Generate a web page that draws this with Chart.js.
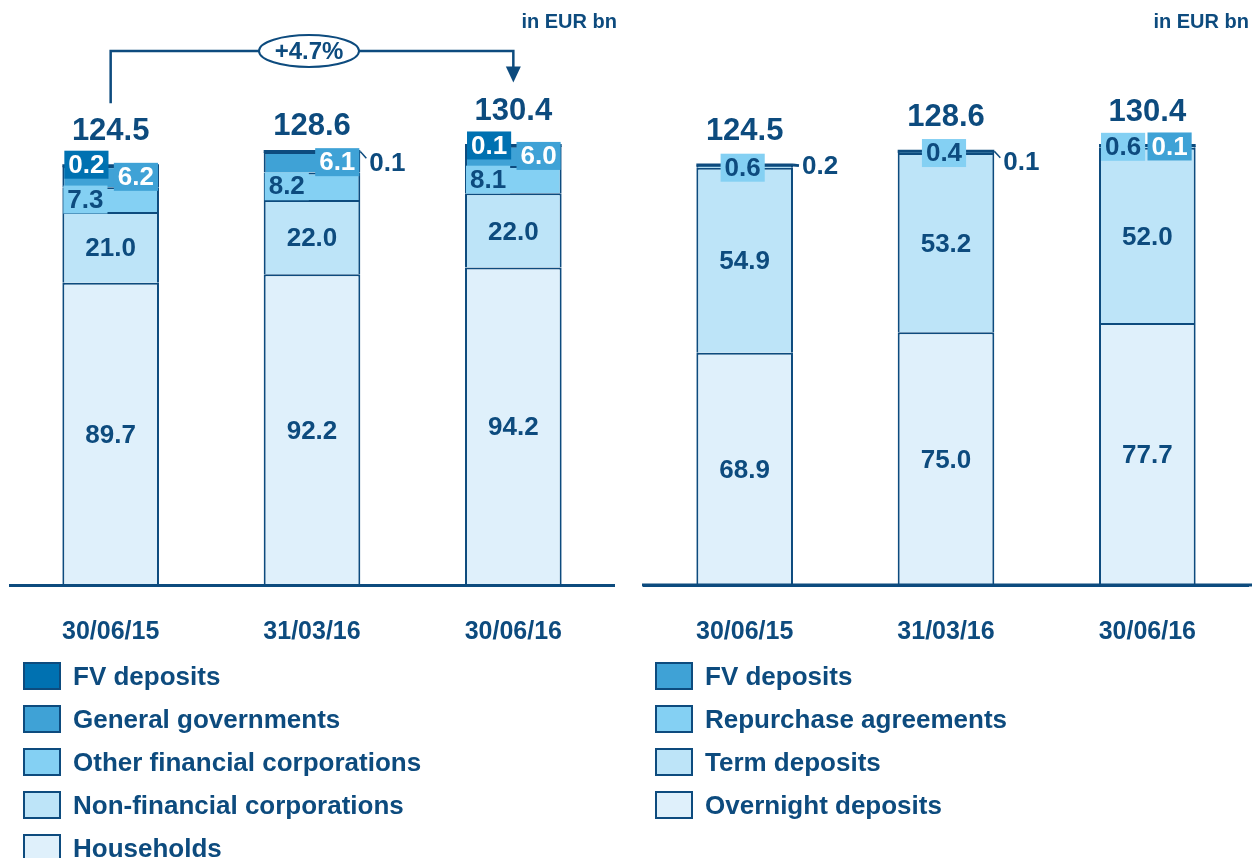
<!DOCTYPE html>
<html>
<head>
<meta charset="utf-8">
<script src="https://cdn.jsdelivr.net/npm/chart.js@4.4.0/dist/chart.umd.min.js"></script>
<style>
  html, body { margin: 0; padding: 0; background: #ffffff; }
  body { width: 1252px; height: 858px; position: relative; overflow: hidden;
         font-family: "Liberation Sans", Arial, sans-serif; }
  canvas { position: absolute; top: 0; }
  #sectorChart { left: 0; }
  #productChart { left: 626px; }
  .legend { position: absolute; top: 662px; }
  #sectorLegend { left: 23px; }
  #productLegend { left: 655px; }
  .legend .item { display: flex; align-items: center; height: 28px; margin-bottom: 15px;
                  font-weight: bold; font-size: 26px; color: #0d4b7e; white-space: nowrap; }
  .legend .sw { width: 38px; height: 28px; box-sizing: border-box; border: 2px solid #0d4b7e;
                margin-right: 12px; flex: none; }
</style>
</head>
<body>
<canvas id="sectorChart" width="626" height="680"></canvas>
<canvas id="productChart" width="626" height="680"></canvas>
<div class="legend" id="sectorLegend"></div>
<div class="legend" id="productLegend"></div>

<script>
// Reporting dates
const dates = ['30/06/15', '31/03/16', '30/06/16'];

// Deposits by sector (EUR bn)
const households = [89.7, 92.2, 94.2];
const nonFinancialCorps = [21.0, 22.0, 22.0];
const otherFinancialCorps = [7.3, 8.2, 8.1];
const generalGovernments = [6.2, 6.1, 6.0];
const fvDepositsSector = [0.2, 0.1, 0.1];
const sectorTotals = [124.5, 128.6, 130.4];

// Deposits by product (EUR bn)
const overnightDeposits = [68.9, 75.0, 77.7];
const termDeposits = [54.9, 53.2, 52.0];
const repurchaseAgreements = [0.6, 0.4, 0.6];
const fvDepositsProduct = [0.2, 0.1, 0.1];
const productTotals = [124.5, 128.6, 130.4];

const growthLabel = '+4.7%';
const unitLabel = 'in EUR bn';

// Palette
const INK = '#0d4b7e';
const BLUE_DARK = '#0071b1';
const BLUE_MID = '#3fa2d6';
const BLUE_LIGHT = '#84d0f3';
const BLUE_PALE = '#bde4f8';
const BLUE_MIST = '#dff0fb';
const FONT = '"Liberation Sans", Arial, sans-serif';

function bar(label, data, color, labelStyle) {
  return { label, data, backgroundColor: color, borderColor: INK, borderWidth: 2,
           labelStyle, categoryPercentage: 1, barPercentage: 0.48 };
}

// Draws the value of each stacked segment, either inside the segment or in a small tag
const segmentLabels = {
  id: 'segmentLabels',
  afterDatasetsDraw(chart) {
    const ctx = chart.ctx;
    ctx.save();

    // heavier outline along the top of every stack
    const lastMeta = chart.getDatasetMeta(chart.data.datasets.length - 1);
    ctx.strokeStyle = INK;
    ctx.lineWidth = 3;
    lastMeta.data.forEach(el => {
      const p = el.getProps(['x', 'y', 'width'], true);
      ctx.beginPath();
      ctx.moveTo(p.x - p.width / 2, p.y);
      ctx.lineTo(p.x + p.width / 2, p.y);
      ctx.stroke();
    });

    ctx.font = 'bold 26px ' + FONT;
    ctx.textBaseline = 'middle';
    const tag = (text, x, cy, anchor, bg, fg) => {
      const w = ctx.measureText(text).width + 8, h = 28;
      const x0 = anchor === 'left' ? x : anchor === 'right' ? x - w : x - w / 2;
      ctx.fillStyle = bg;
      ctx.fillRect(x0, cy - h / 2, w, h);
      ctx.fillStyle = fg;
      ctx.textAlign = 'center';
      ctx.fillText(text, x0 + w / 2, cy + 1);
    };
    chart.data.datasets.forEach((ds, di) => {
      const meta = chart.getDatasetMeta(di);
      meta.data.forEach((el, i) => {
        const p = el.getProps(['x', 'y', 'base', 'width'], true);
        const left = p.x - p.width / 2, right = p.x + p.width / 2;
        const top = Math.min(p.y, p.base), bottom = Math.max(p.y, p.base);
        const mid = (top + bottom) / 2;
        const st = Array.isArray(ds.labelStyle) ? ds.labelStyle[i] : ds.labelStyle;
        const text = ds.data[i].toFixed(1);
        const fg = st.fg || INK;
        switch (st.kind) {
          case 'center':
            ctx.fillStyle = INK; ctx.textAlign = 'center';
            ctx.fillText(text, p.x, mid + 2);
            break;
          case 'inLeft':
            tag(text, left + 1, mid, 'left', ds.backgroundColor, fg);
            break;
          case 'inRight':
            tag(text, right - 1, mid, 'right', ds.backgroundColor, fg);
            break;
          case 'topLeft':
            tag(text, left + 2, top + (st.dy || 0), 'left', ds.backgroundColor, fg);
            break;
          case 'topRight':
            tag(text, right - 4, top + (st.dy || 0), 'right', ds.backgroundColor, fg);
            break;
          case 'topCenter':
            tag(text, p.x - 2, top + (st.dy || 0), 'center', ds.backgroundColor, fg);
            break;
          case 'outside': {
            const ly = top + st.dy;
            ctx.strokeStyle = INK; ctx.lineWidth = st.dy < 4 ? 3 : 1.5;
            ctx.beginPath();
            ctx.moveTo(right, top);
            ctx.lineTo(right + 6, top + st.dy * 0.6);
            ctx.stroke();
            ctx.fillStyle = INK; ctx.textAlign = 'left';
            ctx.fillText(text, right + 9, ly + 1);
            break;
          }
        }
      });
    });
    ctx.restore();
  }
};

// Totals above the bars, unit caption, growth bracket and axis extension
const chartFrame = {
  id: 'chartFrame',
  afterDraw(chart, args, opts) {
    const ctx = chart.ctx;
    const area = chart.chartArea;
    const xs = chart.scales.x, ys = chart.scales.y;
    ctx.save();
    ctx.fillStyle = INK;
    ctx.textBaseline = 'middle';
    ctx.textAlign = 'center';
    ctx.font = 'bold 31px ' + FONT;
    const totalY = opts.totals.map((t, i) => ys.getPixelForValue(t) - opts.lift[i]);
    opts.totals.forEach((t, i) => {
      ctx.fillText(t.toFixed(1), xs.getPixelForValue(i), totalY[i]);
    });

    ctx.font = 'bold 20px ' + FONT;
    ctx.textAlign = 'right';
    ctx.fillText(unitLabel, area.right + opts.unitShift, 22);

    if (opts.extendAxis) {
      ctx.strokeStyle = INK; ctx.lineWidth = 3;
      ctx.beginPath();
      ctx.moveTo(area.left - 2, area.bottom);
      ctx.lineTo(chart.width, area.bottom);
      ctx.stroke();
    }

    if (opts.growth) {
      const x0 = xs.getPixelForValue(0), x2 = xs.getPixelForValue(2);
      const lineY = 51;
      const tipY = totalY[2] - 29;
      ctx.strokeStyle = INK; ctx.lineWidth = 2.5;
      ctx.beginPath();
      ctx.moveTo(x0, totalY[0] - 28);
      ctx.lineTo(x0, lineY);
      ctx.lineTo(x2, lineY);
      ctx.lineTo(x2, tipY - 14);
      ctx.stroke();
      ctx.fillStyle = INK;
      ctx.beginPath();
      ctx.moveTo(x2 - 7.5, tipY - 16);
      ctx.lineTo(x2 + 7.5, tipY - 16);
      ctx.lineTo(x2, tipY);
      ctx.closePath();
      ctx.fill();
      const cx = (x0 + x2) / 2 - 3;
      ctx.beginPath();
      ctx.ellipse(cx, lineY, 50, 16, 0, 0, Math.PI * 2);
      ctx.fillStyle = '#ffffff';
      ctx.fill();
      ctx.lineWidth = 2;
      ctx.stroke();
      ctx.fillStyle = INK;
      ctx.textAlign = 'center';
      ctx.font = 'bold 24px ' + FONT;
      ctx.fillText(opts.growth, cx, lineY + 1);
    }
    ctx.restore();
  }
};

function makeOptions(pad, frame) {
  return {
    responsive: false,
    animation: false,
    layout: { padding: pad },
    plugins: { legend: { display: false }, tooltip: { enabled: false }, chartFrame: frame },
    scales: {
      x: {
        stacked: true,
        grid: { display: false, drawTicks: false },
        border: { display: true, color: INK, width: 3, z: 1 },
        ticks: { color: INK, font: { family: FONT, size: 25, weight: 'bold' },
                 padding: 32, maxRotation: 0, autoSkip: false },
        afterFit(scale) { scale.height = 95; }
      },
      y: { stacked: true, display: false, min: 0, max: 170 }
    }
  };
}

const sectorChart = new Chart(document.getElementById('sectorChart'), {
  type: 'bar',
  data: {
    labels: dates,
    datasets: [
      bar('Households', households, BLUE_MIST, { kind: 'center' }),
      bar('Non-financial corporations', nonFinancialCorps, BLUE_PALE, { kind: 'center' }),
      bar('Other financial corporations', otherFinancialCorps, BLUE_LIGHT, { kind: 'inLeft' }),
      bar('General governments', generalGovernments, BLUE_MID, { kind: 'inRight', fg: '#ffffff' }),
      bar('FV deposits', fvDepositsSector, BLUE_DARK, [
        { kind: 'topLeft', dy: -1, fg: '#ffffff' },
        { kind: 'outside', dy: 11 },
        { kind: 'topLeft', dy: 0, fg: '#ffffff' }
      ])
    ]
  },
  options: makeOptions({ left: 10, right: 12, top: 12, bottom: 0 },
    { totals: sectorTotals, lift: [34, 25.5, 34], unitShift: 3, growth: growthLabel }),
  plugins: [segmentLabels, chartFrame]
});

const productChart = new Chart(document.getElementById('productChart'), {
  type: 'bar',
  data: {
    labels: dates,
    datasets: [
      bar('Overnight deposits', overnightDeposits, BLUE_MIST, { kind: 'center' }),
      bar('Term deposits', termDeposits, BLUE_PALE, { kind: 'center' }),
      bar('Repurchase agreements', repurchaseAgreements, BLUE_LIGHT, [
        { kind: 'topCenter', dy: 2 },
        { kind: 'topCenter', dy: 1.5 },
        { kind: 'topLeft', dy: 1 }
      ]),
      bar('FV deposits', fvDepositsProduct, BLUE_MID, [
        { kind: 'outside', dy: 1 },
        { kind: 'outside', dy: 11 },
        { kind: 'topRight', dy: 1, fg: '#ffffff' }
      ])
    ]
  },
  options: makeOptions({ left: 18, right: 4, top: 12, bottom: 0 },
    { totals: productTotals, lift: [34, 34, 33], unitShift: 1, extendAxis: true }),
  plugins: [segmentLabels, chartFrame]
});

// Legends listed top-down in reverse stacking order
function buildLegend(chart, id) {
  const box = document.getElementById(id);
  chart.data.datasets.slice().reverse().forEach(ds => {
    const item = document.createElement('div');
    item.className = 'item';
    const sw = document.createElement('span');
    sw.className = 'sw';
    sw.style.background = ds.backgroundColor;
    const txt = document.createElement('span');
    txt.textContent = ds.label;
    item.appendChild(sw);
    item.appendChild(txt);
    box.appendChild(item);
  });
}
buildLegend(sectorChart, 'sectorLegend');
buildLegend(productChart, 'productLegend');
</script>
</body>
</html>
